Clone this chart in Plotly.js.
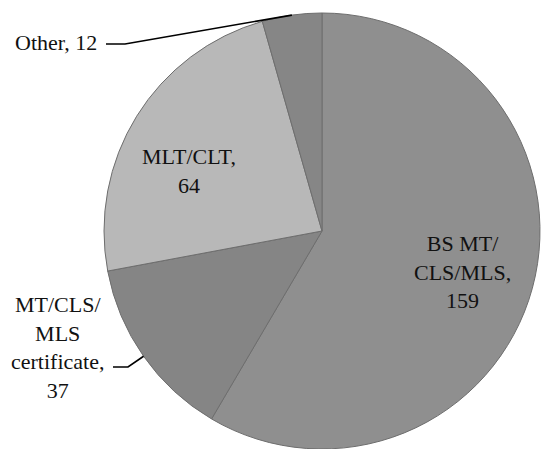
<!DOCTYPE html>
<html>
<head>
<meta charset="utf-8">
<script src="https://cdn.plot.ly/plotly-3.0.1.min.js"></script>
<style>
  html, body { margin: 0; padding: 0; background: #fff; overflow: hidden; }
  #chart { width: 542px; height: 449px; }
</style>
</head>
<body>
<div id="chart"></div>
<script>
// Data
var categories = ["BS MT/<br>CLS/MLS,", "MT/CLS/<br>MLS<br>certificate,", "MLT/CLT,", "Other,"];
var values = [159, 37, 64, 12];
var sliceColors = ["#8f8f8f", "#858585", "#b8b8b8", "#868686"];

var W = 542, H = 449;
var cx = 322, cy = 231, R = 218;

var trace = {
  type: "pie",
  values: values,
  sort: false,
  direction: "clockwise",
  textinfo: "none",
  marker: { colors: sliceColors, line: { color: "#6e6e6e", width: 1 } },
  domain: { x: [Math.max(0, (cx - R) / W), Math.min(1, (cx + R) / W)], y: [Math.max(0, (H - cy - R) / H), Math.min(1, (H - cy + R) / H)] },
  showlegend: false
};

// label positions in pixels (style only)
var labelPos = [
  { x: 462, y: 272, outside: false },
  { x: 57, y: 347, outside: true, lineStart: [113, 367], lineBend: [128, 367] },
  { x: 189, y: 171, outside: false },
  { x: 56, y: 43, outside: true, lineStart: [106, 44], lineBend: [125, 44] }
];

function px(x) { return x / W; }
function py(y) { return 1 - y / H; }

var total = values.reduce(function (a, b) { return a + b; }, 0);
var annotations = [];
var shapes = [];
var cum = 0;
for (var i = 0; i < values.length; i++) {
  var mid = (cum + values[i] / 2) / total * 2 * Math.PI;
  cum += values[i];
  var lp = labelPos[i];
  annotations.push({
    xref: "paper", yref: "paper",
    x: px(lp.x), y: py(lp.y),
    xanchor: "center", yanchor: "middle",
    text: categories[i] + (i === 3 ? " " : "<br>") + values[i],
    showarrow: false,
    align: "center",
    font: { family: "Liberation Serif", size: 22, color: "#111" }
  });
  if (lp.outside) {
    var ax = cx + R * Math.sin(mid);
    var ay = cy - R * Math.cos(mid);
    shapes.push({
      type: "path", xref: "paper", yref: "paper",
      path: "M " + px(lp.lineStart[0]) + "," + py(lp.lineStart[1]) +
            " L " + px(lp.lineBend[0]) + "," + py(lp.lineBend[1]) +
            " L " + px(ax) + "," + py(ay),
      line: { color: "#000", width: 1.6 }
    });
  }
}

var layout = {
  width: W, height: H,
  margin: { l: 0, r: 0, t: 0, b: 0 },
  font: { family: "Liberation Serif" },
  annotations: annotations,
  shapes: shapes
};

Plotly.newPlot("chart", [trace], layout, { staticPlot: true });
</script>
</body>
</html>
